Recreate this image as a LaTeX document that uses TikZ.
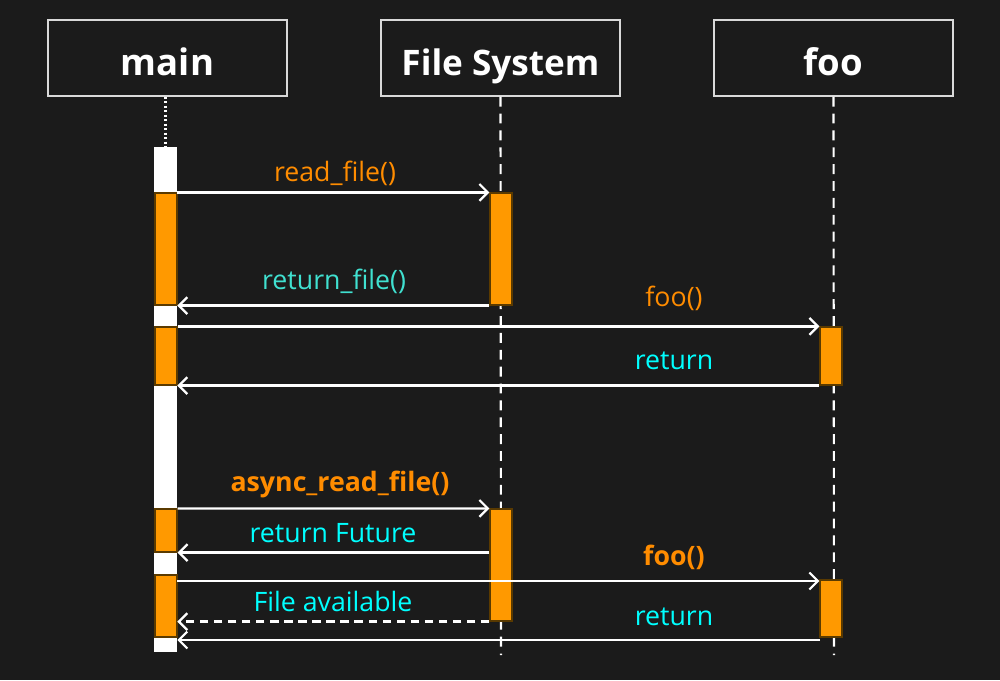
\documentclass[tikz,border=0pt]{standalone}
\usepackage{fontspec}
\setmainfont{Open Sans}
\usetikzlibrary{arrows.meta,fit}
\definecolor{bg}{HTML}{1B1B1B}
\definecolor{barorange}{HTML}{FF9900}
\definecolor{barline}{HTML}{5A3A00}
\definecolor{lblorange}{HTML}{FF8C00}
\definecolor{lblturq}{HTML}{40E0D0}
\definecolor{lblcyan}{HTML}{00FFFF}
\tikzset{
  actor/.style={draw=white!85!black, line width=1pt, fill=bg, inner sep=0pt},
  title/.style={text=white, font=\fontsize{25}{28}\selectfont\bfseries, anchor=base, inner sep=0pt},
  life/.style={draw=white, line width=1.5pt, dash pattern=on 7pt off 5pt},
  mainlife/.style={draw=white, line width=1.8pt, dash pattern=on 1.6pt off 1.6pt},
  whitebar/.style={fill=white, draw=none, inner sep=0pt},
  orangebar/.style={fill=barorange, draw=barline, line width=0.8pt, inner sep=0pt},
  msg/.style={draw=white, line width=1.6pt, -{Straight Barb[length=6pt,width=12pt,line width=1.6pt]}},
  asyncmsg/.style={msg, dash pattern=on 6pt off 4pt},
  lbl/.style={font=\fontsize{19}{22}\selectfont, inner sep=0pt},
  blbl/.style={font=\fontsize{19}{22}\selectfont\bfseries, inner sep=0pt},
}
\begin{document}
\begin{tikzpicture}[x=0.025cm,y=-0.025cm]
\useasboundingbox (0,0) rectangle (1000,680);
\fill[bg] (0,0) rectangle (1000,680);
% actors
\node[actor, fit={(48,20)(287,96)}] (main) {};
\node[actor, fit={(381,20)(620,96)}] (fs) {};
\node[actor, fit={(714,20)(953,96)}] (foo) {};
\node[title, font=\fontsize{26}{29}\selectfont\bfseries] (tmain) at (167.5,75) {main};
\node[title] (tfs) at (500.5,75) {File System};
\node[title, font=\fontsize{26}{29}\selectfont\bfseries] (tfoo) at (833.5,75) {foo};
% lifeline ends
\coordinate (mainend) at (165.5,147);
\coordinate (fsend) at (501,655);
\coordinate (fooend) at (834,655);
\draw[mainlife] (main.south -| mainend) -- (mainend);
\draw[life] (fs.south) -- (fsend);
\draw[life] (foo.south) -- (fooend);
% activation bars
\node[whitebar, fit={(154,147)(177,652)}] (mW) {};
\node[orangebar, fit={(155,193)(177,305)}] (m1) {};
\node[orangebar, fit={(155,327)(177,385)}] (m2) {};
\node[orangebar, fit={(155,509)(177,552)}] (m3) {};
\node[orangebar, fit={(155,575)(177,637)}] (m4) {};
\node[orangebar, fit={(490,193)(512,305)}] (f1) {};
\node[orangebar, fit={(490,509)(512,621)}] (f2) {};
\node[orangebar, fit={(820,327)(842,385)}] (o1) {};
\node[orangebar, fit={(820,580)(842,637)}] (o2) {};
\coordinate (r9) at (820,640);
\coordinate (c7) at (177,581);
% messages
\draw[msg] (mW.east |- f1.north) -- (f1.north west);
\draw[msg] (f1.south west) -- (f1.south west -| mW.east);
\draw[msg] (m2.north east) -- (o1.north west);
\draw[msg] (o1.south west) -- (o1.south west -| mW.east);
\draw[msg] (m3.north east) -- (f2.north west);
\draw[msg] (f2.west |- m3.south) -- (m3.south east);
\draw[msg] (c7) -- (c7 -| o2.west);
\draw[asyncmsg] (f2.south west) -- (f2.south west -| mW.east);
\draw[msg] (r9) -- (r9 -| mW.east);
% labels
\node[lbl, text=lblorange] (l1) at (335,173) {read\_file()};
\node[lbl, text=lblturq] (l2) at (334,281) {return\_file()};
\node[lbl, text=lblorange] (l3) at (674,298) {foo()};
\node[lbl, text=lblcyan] (l4) at (674,361) {return};
\node[blbl, text=lblorange] (l5) at (340,484) {async\_read\_file()};
\node[lbl, text=lblcyan] (l6) at (333,533) {return Future};
\node[blbl, text=lblorange] (l7) at (674,557) {foo()};
\node[lbl, text=lblcyan] (l8) at (333,601) {File available};
\node[lbl, text=lblcyan] (l9) at (674,617) {return};
\end{tikzpicture}
\end{document}
